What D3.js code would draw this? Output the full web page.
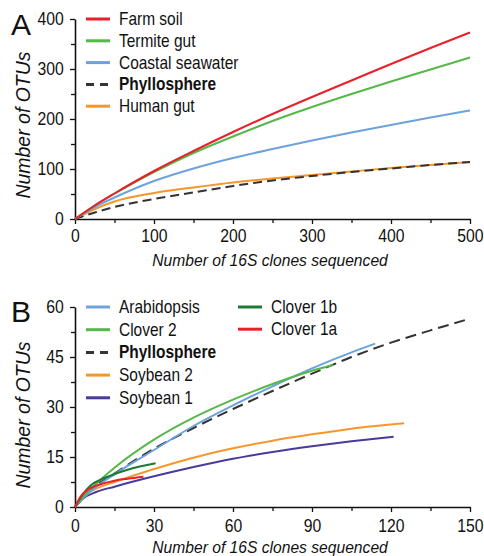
<!DOCTYPE html>
<html><head><meta charset="utf-8">
<script src="https://cdn.jsdelivr.net/npm/d3@7"></script>
<style>body{margin:0;background:#fff} text{font-family:"Liberation Sans",Arial,sans-serif}</style>
</head><body><svg id="c" width="484" height="556"></svg>
<script>
// ---------- Panel A data ----------
const xA = [0, 25, 50, 100, 150, 200, 250, 300, 350, 400, 450, 500];
const farmSoil = [0, 27, 51, 96, 136, 174, 210, 244, 277, 310, 342, 373];
const termiteGut = [0, 27, 51, 94, 132, 165, 196, 224, 250, 275, 299, 323];
const coastalSeawater = [0, 24, 43, 76, 101, 122, 140, 157, 173, 188, 203, 217];
const phyllosphereA = [0, 13, 24, 40, 53, 66, 77, 86, 94, 101, 108, 114];
const humanGut = [0, 20, 35, 52, 63, 73, 81, 88, 95, 102, 108, 114];
const namesA = ["Farm soil", "Termite gut", "Coastal seawater", "Phyllosphere", "Human gut"];
const xTicksA = [0, 100, 200, 300, 400, 500];
const yTicksA = [0, 100, 200, 300, 400];

// ---------- Panel B data ----------
const arabidopsisX = [0, 3, 8, 15, 30, 45, 60, 75, 90, 105, 114];
const arabidopsisY = [0, 2.6, 6, 9.8, 17.1, 24.3, 30.5, 36.2, 41.6, 46.4, 49];
const clover2X = [0, 3, 8, 15, 30, 45, 60, 75, 90, 98];
const clover2Y = [0, 3, 7, 11.8, 20.2, 26.8, 32.2, 36.9, 40.9, 42.6];
const phyllosphereBX = [0, 5, 15, 30, 45, 60, 75, 90, 105, 120, 135, 150];
const phyllosphereBY = [0, 4.5, 10, 17.5, 23.7, 29.4, 34.8, 40, 45, 49.3, 53, 56.5];
const soybean2X = [0, 3, 8, 15, 30, 45, 60, 75, 90, 105, 125];
const soybean2Y = [0, 3, 5.5, 7.5, 11.4, 14.8, 17.6, 19.9, 21.8, 23.5, 25.1];
const soybean1X = [0, 3, 8, 15, 30, 45, 60, 75, 90, 105, 121];
const soybean1Y = [0, 2.5, 4.5, 6.1, 9.2, 12, 14.5, 16.5, 18.2, 19.7, 21.1];
const clover1bX = [0, 3, 6, 10, 15, 20, 25, 30.6];
const clover1bY = [0, 3.8, 6.5, 8.3, 9.9, 11.2, 12.2, 13.1];
const clover1aX = [0, 2, 5, 10, 15, 20, 26];
const clover1aY = [0, 3, 5.3, 6.9, 7.9, 8.5, 9.1];
const namesB = ["Arabidopsis", "Clover 2", "Phyllosphere", "Soybean 2", "Soybean 1", "Clover 1b", "Clover 1a"];
const xTicksB = [0, 30, 60, 90, 120, 150];
const yTicksB = [0, 15, 30, 45, 60];

const C = {red:"#e8202a", green:"#55b848", blue:"#6ea2dc", black:"#333333", orange:"#f7962a", purple:"#4a3a9c", dkgreen:"#1b7a33"};

const svg = d3.select("#c");

function ctext(g, x, y, str, size, sx, opts) {
  opts = opts || {};
  const t = g.append("text").attr("transform", `translate(${x},${y}) scale(${sx},1)`)
    .attr("font-size", size).attr("fill", "#111").text(str);
  if (opts.anchor) t.attr("text-anchor", opts.anchor);
  if (opts.bold) t.attr("font-weight", "bold");
  if (opts.italic) t.attr("font-style", "italic");
  return t;
}

function panel(cfg) {
  const x = d3.scaleLinear().domain(cfg.xDomain).range([75, 470]);
  const y = d3.scaleLinear().domain(cfg.yDomain).range([cfg.yBottom, cfg.yTop]);
  const g = svg.append("g");
  g.append("g").attr("transform", `translate(0,${cfg.yBottom})`)
    .call(d3.axisBottom(x).tickValues(cfg.xMinor).tickSize(4).tickFormat(""))
    .call(a => a.select(".domain").remove());
  g.append("g").attr("transform", `translate(75,0)`)
    .call(d3.axisLeft(y).tickValues(cfg.yMinor).tickSize(4).tickFormat(""))
    .call(a => a.select(".domain").remove());
  const xa = g.append("g").attr("transform", `translate(0,${cfg.yBottom})`)
    .call(d3.axisBottom(x).tickValues(cfg.xTicks).tickSize(5).tickSizeOuter(0).tickPadding(cfg.xPad));
  const ya = g.append("g").attr("transform", `translate(75,0)`)
    .call(d3.axisLeft(y).tickValues(cfg.yTicks).tickSize(5).tickSizeOuter(0).tickPadding(7.5));
  [xa, ya].forEach(a => {
    a.selectAll("path.domain").attr("stroke", "#111").attr("stroke-width", 1.6);
    a.selectAll(".tick text").attr("font-size", 17.5).attr("fill", "#111")
      .attr("font-family", '"Liberation Sans",Arial,sans-serif')
      .attr("transform", "scale(0.9,1)");
  });
  g.selectAll(".tick line").attr("stroke", "#111").attr("stroke-width", 1.3);
  ctext(g, 270, cfg.yBottom + cfg.xLabOff, "Number of 16S clones sequenced", 17, 0.92, {anchor:"middle", italic:true});
  g.append("text").attr("transform", `translate(30,${cfg.yLabelY}) rotate(-90) scale(0.95,1)`).attr("text-anchor", "middle")
    .attr("font-size", 20.5).attr("font-style", "italic").attr("fill", "#111")
    .text("Number of OTUs");
  g.append("text").attr("x", 11).attr("y", cfg.letterY).attr("font-size", 30).attr("fill", "#111")
    .text(cfg.letter);
  return {x, y, g};
}

function drawLine(p, xs, ys, color, dashed, width) {
  const line = d3.line().x(d => p.x(d[0])).y(d => p.y(d[1])).curve(d3.curveMonotoneX);
  p.g.append("path").datum(xs.map((v, i) => [v, ys[i]]))
    .attr("d", line).attr("fill", "none").attr("stroke", color)
    .attr("stroke-width", width || 2)
    .attr("stroke-dasharray", dashed ? dashed : null);
}

function legend(p, items, x0, y0, step) {
  items.forEach((it, i) => {
    const yb = y0 + i * step;
    p.g.append("line").attr("x1", x0).attr("x2", x0 + 24).attr("y1", yb - 6).attr("y2", yb - 6)
      .attr("stroke", it.color).attr("stroke-width", 3)
      .attr("stroke-dasharray", it.dashed ? "8,6" : null);
    ctext(p.g, x0 + 33, yb, it.name, 18, 0.86, {bold: it.bold});
  });
}

// ---------- Panel A ----------
const pA = panel({xDomain:[0,500], yDomain:[0,400], yTop:19, yBottom:219,
  xTicks:xTicksA, yTicks:yTicksA, xMinor:d3.range(50,500,100), yMinor:d3.range(50,400,100),
  yLabelY:125, letter:"A", letterY:35, xPad:6, xLabOff:47});
drawLine(pA, xA, humanGut, C.orange);
drawLine(pA, xA, phyllosphereA, C.black, "9,5");
drawLine(pA, xA, coastalSeawater, C.blue);
drawLine(pA, xA, termiteGut, C.green);
drawLine(pA, xA, farmSoil, C.red);
legend(pA, [
  {name:namesA[0], color:C.red}, {name:namesA[1], color:C.green}, {name:namesA[2], color:C.blue},
  {name:namesA[3], color:C.black, dashed:true, bold:true}, {name:namesA[4], color:C.orange}
], 86, 25, 21.8);

// ---------- Panel B ----------
const pB = panel({xDomain:[0,150], yDomain:[0,60], yTop:307, yBottom:507,
  xTicks:xTicksB, yTicks:yTicksB, xMinor:d3.range(15,150,30), yMinor:d3.range(7.5,60,15),
  yLabelY:415, letter:"B", letterY:322, xPad:8, xLabOff:46});
drawLine(pB, soybean1X, soybean1Y, C.purple);
drawLine(pB, soybean2X, soybean2Y, C.orange);
drawLine(pB, phyllosphereBX, phyllosphereBY, C.black, "11,6");
drawLine(pB, arabidopsisX, arabidopsisY, C.blue);
drawLine(pB, clover2X, clover2Y, C.green);
drawLine(pB, clover1bX, clover1bY, C.dkgreen);
drawLine(pB, clover1aX, clover1aY, C.red);
legend(pB, [
  {name:namesB[0], color:C.blue}, {name:namesB[1], color:C.green},
  {name:namesB[2], color:C.black, dashed:true, bold:true},
  {name:namesB[3], color:C.orange}, {name:namesB[4], color:C.purple}
], 86, 313, 22.7);
legend(pB, [{name:namesB[5], color:C.dkgreen}, {name:namesB[6], color:C.red}], 238, 313, 22.2);
</script></body></html>
